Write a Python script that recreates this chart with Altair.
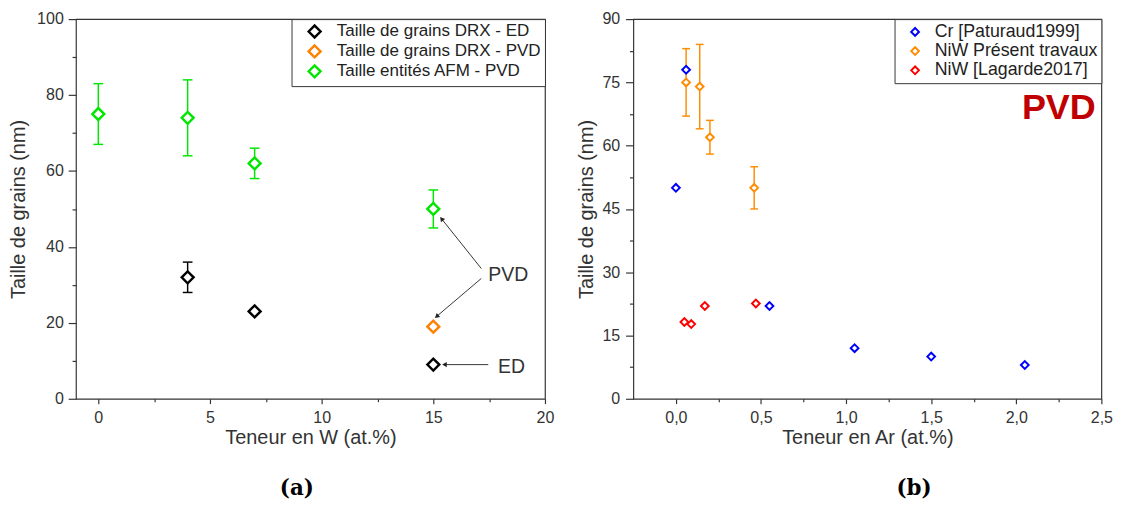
import altair as alt
import pandas as pd

FONT = "Liberation Sans"
TXT = "#333333"

# ---------------- Panel (a) data ----------------
a_series = ["Taille de grains DRX - ED", "Taille de grains DRX - PVD", "Taille entités AFM - PVD"]
a_colors = ["#000000", "#FF7F00", "#00E600"]

a_ed_x = [4, 7, 15]
a_ed_y = [32, 23, 9]
a_pvd_x = [15]
a_pvd_y = [19]
a_afm_x = [0, 4, 7, 15]
a_afm_y = [75, 74, 62, 50]

a_err_series = ["Taille de grains DRX - ED", "Taille entités AFM - PVD", "Taille entités AFM - PVD",
                "Taille entités AFM - PVD", "Taille entités AFM - PVD"]
a_err_x = [4, 0, 4, 7, 15]
a_err_lo = [28, 67, 64, 58, 45]
a_err_hi = [36, 83, 84, 66, 55]

a_x_ticks = [0, 2.5, 5, 7.5, 10, 12.5, 15, 17.5, 20]
a_y_ticks = [0, 10, 20, 30, 40, 50, 60, 70, 80, 90, 100]

a_note_text = ["PVD", "ED"]
a_note_x = [17.46, 17.9]
a_note_y = [32.5, 8.4]
a_arrow_x1 = [17.15, 17.15, 17.46]
a_arrow_y1 = [34.3, 31.7, 9.0]
a_arrow_x2 = [15.37, 15.15, 15.5]
a_arrow_y2 = [47.4, 21.7, 9.0]
a_arrow_angle = [321, 230, 270]

# ---------------- Panel (b) data ----------------
b_series = ["Cr [Paturaud1999]", "NiW Présent travaux", "NiW [Lagarde2017]"]
b_colors = ["#0000FF", "#FF8C00", "#FF0000"]

b_cr_x = [0.0, 0.06, 0.55, 1.05, 1.5, 2.05]
b_cr_y = [50, 78, 22, 12, 10, 8]
b_pt_x = [0.06, 0.14, 0.20, 0.46]
b_pt_y = [75, 74, 62, 50]
b_pt_lo = [67, 64, 58, 45]
b_pt_hi = [83, 84, 66, 55]
b_lg_x = [0.05, 0.09, 0.17, 0.47]
b_lg_y = [18.2, 17.7, 22.0, 22.6]

b_x_ticks = [0, 0.25, 0.5, 0.75, 1.0, 1.25, 1.5, 1.75, 2.0, 2.25, 2.5]
b_y_ticks = [0, 7.5, 15, 22.5, 30, 37.5, 45, 52.5, 60, 67.5, 75, 82.5, 90]

b_note_text = ["PVD"]
b_note_x = [2.25]
b_note_y = [68.8]

# ---------------- tables ----------------
df_a_pts = pd.DataFrame({
    "x": a_ed_x + a_pvd_x + a_afm_x,
    "y": a_ed_y + a_pvd_y + a_afm_y,
    "series": [a_series[0]] * len(a_ed_x) + [a_series[1]] * len(a_pvd_x) + [a_series[2]] * len(a_afm_x),
})
df_a_err = pd.DataFrame({"x": a_err_x, "lo": a_err_lo, "hi": a_err_hi, "series": a_err_series})
df_a_caps = pd.DataFrame({"x": a_err_x + a_err_x, "y": a_err_lo + a_err_hi, "series": a_err_series + a_err_series})
df_a_notes = pd.DataFrame({"x": a_note_x, "y": a_note_y, "t": a_note_text})
df_a_arrows = pd.DataFrame({"x": a_arrow_x1, "y": a_arrow_y1, "x2": a_arrow_x2, "y2": a_arrow_y2, "ang": a_arrow_angle})

df_b_pts = pd.DataFrame({
    "x": b_cr_x + b_pt_x + b_lg_x,
    "y": b_cr_y + b_pt_y + b_lg_y,
    "series": [b_series[0]] * len(b_cr_x) + [b_series[1]] * len(b_pt_x) + [b_series[2]] * len(b_lg_x),
})
df_b_err = pd.DataFrame({"x": b_pt_x, "lo": b_pt_lo, "hi": b_pt_hi, "series": [b_series[1]] * len(b_pt_x)})
df_b_caps = pd.DataFrame({"x": b_pt_x + b_pt_x, "y": b_pt_lo + b_pt_hi, "series": [b_series[1]] * (2 * len(b_pt_x))})
df_b_notes = pd.DataFrame({"x": b_note_x, "y": b_note_y, "t": b_note_text})


def cond(test, minor, major):
    return {"condition": {"test": test, "value": minor}, "value": major}


# ---------------- axes ----------------
x_axis_a = alt.Axis(values=a_x_ticks, title="Teneur en W (at.%)",
                    labelExpr="datum.value % 5 == 0 ? format(datum.value, 'd') : ''",
                    tickSize=cond("datum.value % 5 != 0", 3, 5), labelPadding=6, titlePadding=3)
y_axis_a = alt.Axis(values=a_y_ticks, title="Taille de grains (nm)",
                    labelExpr="datum.value % 20 == 0 ? format(datum.value, 'd') : ''",
                    tickSize=cond("datum.value % 20 != 0", 4, 8), labelPadding=5, titlePadding=8)
x_axis_b = alt.Axis(values=b_x_ticks, title="Teneur en Ar (at.%)",
                    labelExpr="abs(datum.value * 2 - round(datum.value * 2)) > 0.01 ? '' : replace(format(datum.value, '.1f'), '.', ',')",
                    tickSize=cond("abs(datum.value * 2 - round(datum.value * 2)) > 0.01", 3, 5),
                    labelPadding=6, titlePadding=3)
y_axis_b = alt.Axis(values=b_y_ticks, title="Taille de grains (nm)",
                    labelExpr="datum.value % 15 == 0 ? format(datum.value, 'd') : ''",
                    tickSize=cond("datum.value % 15 != 0", 4, 8), labelPadding=6, titlePadding=6)


def legend(size, sw, soff, loff, fs, rp):
    return alt.Legend(title=None, orient="top-right", offset=0, padding=4, strokeColor="#333333",
                      fillColor="white", symbolType="diamond", symbolSize=size, symbolStrokeWidth=sw,
                      symbolOffset=soff, labelOffset=loff, labelFontSize=fs, labelFont=FONT,
                      labelColor="#222222", rowPadding=rp, cornerRadius=0, labelLimit=0,
                      symbolOpacity=1)


def build_panel(xdom, ydom, xaxis, yaxis, series, colors, df_pts, df_err, df_caps,
                pt_size, pt_sw, cap_size, leg):
    sx = alt.Scale(domain=xdom, nice=False, zero=False)
    sy = alt.Scale(domain=ydom, nice=False, zero=False)
    cscale = alt.Scale(domain=series, range=colors)

    def X(f):
        return alt.X(f"{f}:Q", scale=sx, axis=xaxis)

    def Y(f):
        return alt.Y(f"{f}:Q", scale=sy, axis=yaxis)

    col = alt.Color("series:N", scale=cscale, legend=leg)
    rules = alt.Chart(df_err).mark_rule(strokeWidth=1.5).encode(
        x=X("x"), y=Y("lo"), y2="hi:Q", color=col)
    caps = alt.Chart(df_caps).mark_point(shape="stroke", filled=False, size=cap_size * cap_size,
                                         strokeWidth=1.5, opacity=1).encode(
        x=X("x"), y=Y("y"), color=col)
    pts = alt.Chart(df_pts).mark_point(shape="diamond", filled=False, fill="white", fillOpacity=1,
                                       size=pt_size, strokeWidth=pt_sw, opacity=1).encode(
        x=X("x"), y=Y("y"), color=col)
    return [rules, caps, pts], X, Y


layers_a, XA, YA = build_panel([-1, 20], [0, 100], x_axis_a, y_axis_a, a_series, a_colors,
                               df_a_pts, df_a_err, df_a_caps, 150, 2.5, 10,
                               legend(150, 2.5, 11, 14, 17.5, -2.5))
arrows_a = alt.Chart(df_a_arrows).mark_rule(strokeWidth=1, color="#333333").encode(
    x=XA("x"), y=YA("y"), x2="x2:Q", y2="y2:Q")
heads_a = alt.Chart(df_a_arrows).mark_point(shape="triangle-up", filled=True, size=30,
                                            color="#222222", opacity=1).encode(
    x=XA("x2"), y=YA("y2"), angle=alt.Angle("ang:Q", scale=None))
notes_a = alt.Chart(df_a_notes).mark_text(align="left", baseline="middle", fontSize=20,
                                          font=FONT, color=TXT).encode(
    x=XA("x"), y=YA("y"), text="t:N")

panel_a = alt.layer(*layers_a, arrows_a, heads_a, notes_a).properties(
    width=483, height=391,
    title=alt.TitleParams("(a)", orient="bottom", anchor="middle", dx=-14, offset=31,
                          font="DejaVu Serif", fontSize=22, fontWeight="bold", color="black"))

layers_b, XB, YB = build_panel([-0.25, 2.5], [0, 90], x_axis_b, y_axis_b, b_series, b_colors,
                               df_b_pts, df_b_err, df_b_caps, 64, 2, 8,
                               legend(64, 2, 8, 11, 18.3, 0.8))
notes_b = alt.Chart(df_b_notes).mark_text(align="center", baseline="middle", fontSize=37,
                                          fontWeight="bold", font=FONT, color="#C00000").encode(
    x=XB("x"), y=YB("y"), text="t:N")

panel_b = alt.layer(*layers_b, notes_b).properties(
    width=482, height=391,
    title=alt.TitleParams("(b)", orient="bottom", anchor="middle", dx=48, offset=31,
                          font="DejaVu Serif", fontSize=22, fontWeight="bold", color="black"))

chart = alt.hconcat(panel_a, panel_b, spacing=91, bounds="flush").resolve_scale(
    color="independent", x="independent", y="independent"
).properties(
    padding={"left": 0, "top": -5, "right": 0, "bottom": 0}
).configure_view(
    stroke="#333333", strokeWidth=1.2
).configure_axis(
    labelFont=FONT, labelFontSize=16.5, labelColor=TXT,
    titleFont=FONT, titleFontSize=20.5, titleColor=TXT, titleFontWeight="normal",
    domain=False, grid=False, tickColor="#333333", tickWidth=1.2,
    labelFlush=False, labelOverlap=False, labelBound=False
)

chart.save("out.html", embed_options={"renderer": "svg", "actions": False})
